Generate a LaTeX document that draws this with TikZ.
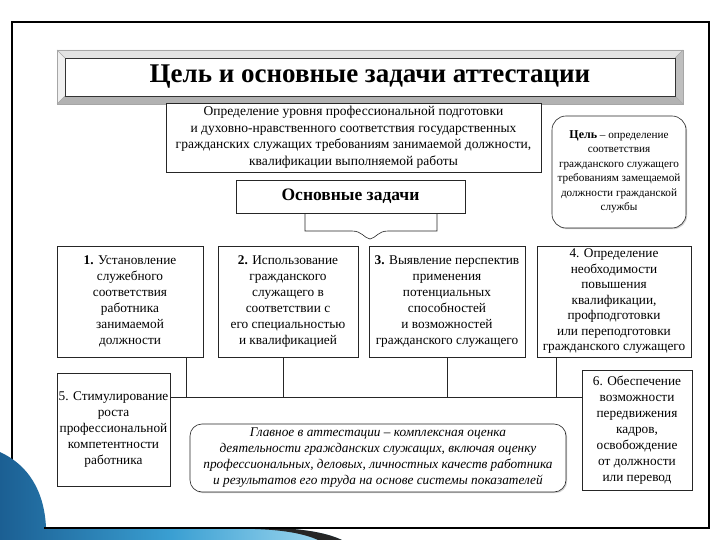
\documentclass[tikz,border=0pt]{standalone}
\usepackage{fontspec}
\setmainfont{Liberation Serif}
\usetikzlibrary{shadows}
\definecolor{swdark}{HTML}{1B5F93}
\definecolor{swmid}{HTML}{3A9FD2}
\definecolor{swlight}{HTML}{A8DDF2}
\tikzset{
  tbox/.style={draw=black!85, line width=0.6pt, fill=white, align=center, inner sep=1pt,
    font=\fontsize{13.3}{16}\selectfont,
    drop shadow={shadow xshift=1.2pt, shadow yshift=-1.2pt, fill=black!40, opacity=0.45}},
  rbox/.style={tbox, rounded corners=12pt},
  link/.style={draw=black!85, line width=0.6pt},
}
\begin{document}
\begin{tikzpicture}[x=1pt,y=-1pt]
\useasboundingbox (0,0) rectangle (720,540);
\fill[white] (0,0) rectangle (720,540);
% outer frame
\draw[line width=1.6pt, black] (12,22) rectangle (709,528);
% title bevel box
\fill[gray!22] (57,50) -- (683,50) -- (675,58) -- (65,58) -- cycle;
\fill[gray!12] (57,50) -- (65,58) -- (65,96) -- (57,104) -- cycle;
\fill[gray!50] (683,50) -- (683,104) -- (675,96) -- (675,58) -- cycle;
\fill[gray!60] (57,104) -- (65,96) -- (675,96) -- (683,104) -- cycle;
\draw[gray!70, line width=0.5pt] (57,50) rectangle (683,104);
\draw[gray!70, line width=0.4pt] (57,50) -- (65,58) (683,50) -- (675,58) (57,104) -- (65,96) (683,104) -- (675,96);
\node[draw=black!80, line width=0.5pt, fill=white, minimum width=610pt, minimum height=38pt, inner sep=0pt,
  font=\fontsize{27}{31}\selectfont\bfseries] (title) at (370,77) {Цель и основные задачи аттестации};
% definition box
\node[tbox, minimum width=375pt, minimum height=69pt, font=\fontsize{13.5}{16.5}\selectfont] (def) at (353.5,137.5)
  {Определение уровня профессиональной подготовки\\и духовно-нравственного соответствия государственных\\гражданских служащих требованиям занимаемой должности,\\квалификации выполняемой работы};
% goal box
\node[rbox, rounded corners=14pt, minimum width=134pt, minimum height=112pt, font=\fontsize{11.2}{14.5}\selectfont] (goal) at (619,172)
  {\textbf{\fontsize{12}{14.5}\selectfont Цель} – определение\\соответствия\\гражданского служащего\\требованиям замещаемой\\должности гражданской\\службы};
% main tasks
\node[tbox, minimum width=229pt, minimum height=33pt, font=\fontsize{17.5}{19}\selectfont\bfseries] (tasks) at (350.5,196.5) {Основные задачи};
% brace
\coordinate (bl) at (305,231);
\coordinate (br) at (437,231);
\coordinate (bm) at (370,239);
\draw[link] (tasks.south -| bl) -- (bl) -- (352,231) .. controls (362,231) and (364,238) .. (bm)
  .. controls (376,238) and (378,231) .. (388,231) -- (br) -- (tasks.south -| br);
% task boxes
\node[tbox, minimum width=146pt, minimum height=111pt] (b1) at (130,301.5)
  {\textbf{1.} Установление\\служебного\\соответствия\\работника\\занимаемой\\должности};
\node[tbox, minimum width=140pt, minimum height=111pt] (b2) at (288,301.5)
  {\textbf{2.} Использование\\гражданского\\служащего в\\соответствии с\\его специальностью\\и квалификацией};
\node[tbox, minimum width=156pt, minimum height=111pt] (b3) at (447,301.5)
  {\textbf{3.} Выявление перспектив\\применения\\потенциальных\\способностей\\и возможностей\\гражданского служащего};
\node[tbox, minimum width=154pt, minimum height=111pt, font=\fontsize{13.3}{15.5}\selectfont] (b4) at (614,301.5)
  {4. Определение\\необходимости\\повышения\\квалификации,\\профподготовки\\или переподготовки\\гражданского служащего};
\node[tbox, minimum width=113pt, minimum height=113pt] (b5) at (113.5,429.5)
  {5. Стимулирование\\роста\\профессиональной\\компетентности\\работника};
\node[tbox, minimum width=110pt, minimum height=120pt] (b6) at (637,430)
  {6. Обеспечение\\возможности\\передвижения\\кадров,\\освобождение\\от должности\\или перевод};
% connectors
\coordinate (j1) at (186,397);
\coordinate (j2) at (283,397);
\coordinate (j3) at (447,397);
\coordinate (j4) at (556,397);
\draw[link] (j1 |- b1.south) -- (j1);
\draw[link] (j2 |- b2.south) -- (j2);
\draw[link] (j3 |- b3.south) -- (j3);
\draw[link] (j4 |- b4.south) -- (j4);
\draw[link] (b5.east |- j1) -- (b6.west |- j1);
% summary box
\node[rbox, minimum width=376pt, minimum height=68pt, font=\fontsize{13.3}{16}\selectfont\itshape] (main) at (378,458)
  {Главное в аттестации – комплексная оценка\\деятельности гражданских служащих, включая оценку\\профессиональных, деловых, личностных качеств работника\\и результатов его труда на основе системы показателей};
% decorative swoosh
\shade[left color=swdark, right color=swlight, middle color=swmid]
  (0,452) .. controls (28,465) and (44,490) .. (46,527) -- (250,527)
  .. controls (300,528) and (325,532) .. (342,540) -- (0,540) -- cycle;
\fill[black!85] (255,527) .. controls (300,528) and (325,532) .. (342,540) -- (318,540)
  .. controls (305,534) and (285,530) .. (255,529) -- cycle;
\draw[line width=1.6pt, black] (44,528) -- (709,528);
\end{tikzpicture}
\end{document}
